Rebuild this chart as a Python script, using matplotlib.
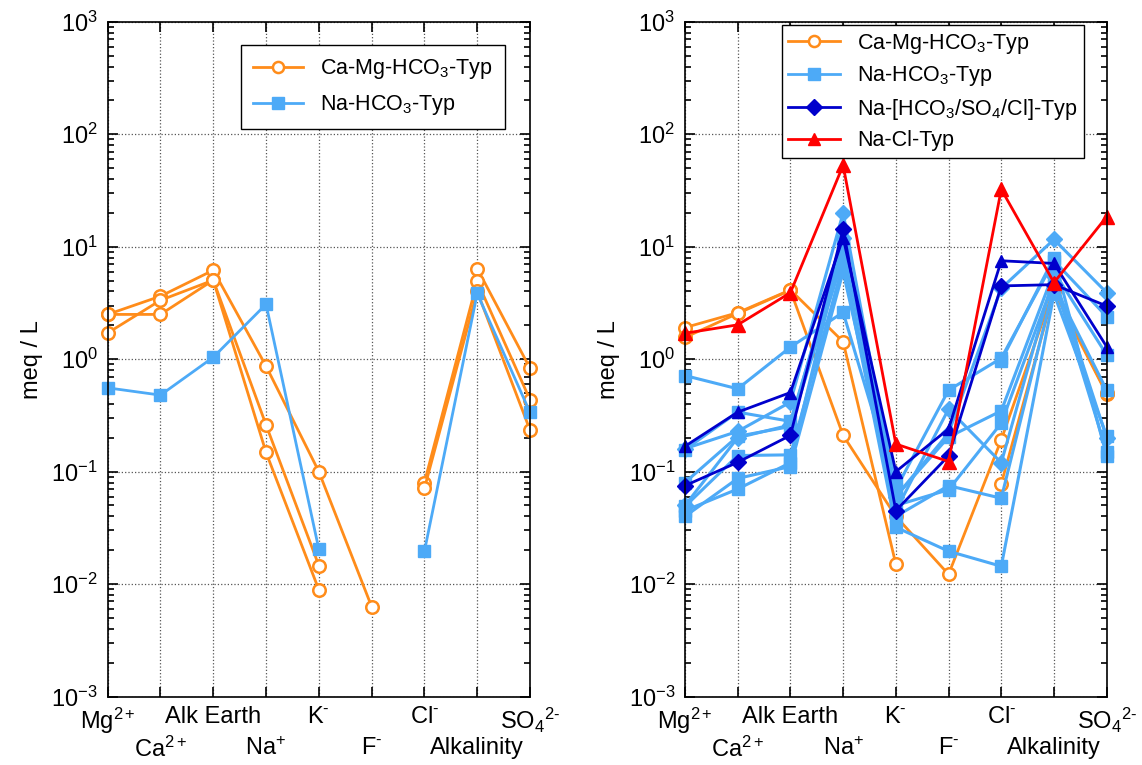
import numpy as np
import matplotlib
matplotlib.use("Agg")
import matplotlib.pyplot as plt
from matplotlib.ticker import LogLocator, NullFormatter
from matplotlib.lines import Line2D

plt.rcParams['font.family'] = ['Liberation Sans', 'DejaVu Sans']
plt.rcParams['mathtext.fontset'] = 'custom'
plt.rcParams['mathtext.rm'] = 'Liberation Sans'
plt.rcParams['mathtext.it'] = 'Liberation Sans'
plt.rcParams['mathtext.bf'] = 'Liberation Sans:bold'

nan = np.nan

# x categories, upper row and lower row of the staggered labels
categories = ['Mg$^{2+}$', 'Ca$^{2+}$', 'Alk Earth', 'Na$^{+}$', r'K$^{\text{-}}$',
              r'F$^{\text{-}}$', r'Cl$^{\text{-}}$', 'Alkalinity', r'SO$_4$$^{2\text{-}}$']

# left panel
left_camg = [
    [2.50, 3.63, 6.18, 0.867, 0.100, 0.0063, nan, 6.40, 0.83],
    [2.50, 2.50, 5.04, 0.260, 0.0146, nan, 0.080, 4.93, 0.435],
    [1.71, 3.34, 5.04, 0.148, 0.0089, nan, 0.071, 4.00, 0.234],
]
left_nahco3 = [
    [0.556, 0.479, 1.04, 3.08, 0.0204, nan, 0.0196, 3.84, 0.336],
]

# right panel
right_camg = [
    [1.91, 2.59, 4.13, 1.43, 0.0150, nan, 0.078, 4.0, 0.49],
    [1.56, 2.55, 4.10, 0.21, 0.040, 0.0122, 0.192, 4.2, 0.50],
]
right_nahco3_sq = [
    [0.715, 0.545, 1.28, 2.61, 0.070, 0.53, 1.02, 7.5, 2.39],
    [0.157, 0.338, 0.280, 10.0, 0.060, 0.203, 0.347, 6.0, 1.09],
    [0.080, 0.206, 0.252, 8.0, 0.040, 0.075, 0.058, 4.5, 0.53],
    [0.049, 0.139, 0.141, 7.0, 0.032, 0.0196, 0.0144, 3.8, 0.208],
    [0.040, 0.087, 0.111, 6.0, 0.050, 0.069, 0.270, 5.0, 0.150],
    [0.045, 0.070, 0.120, 11.0, 0.085, nan, 0.97, 8.0, 0.137],
]
right_nahco3_dia = [
    [0.160, 0.228, 0.415, 20.0, 0.060, 0.22, 4.27, 11.6, 3.9],
    [0.050, 0.200, 0.260, 12.0, 0.045, 0.36, 0.120, 5.5, 0.20],
]
right_mixed = [0.075, 0.121, 0.21, 14.3, 0.045, 0.138, 4.48, 4.6, 2.97]
right_mixed_tri = [0.168, 0.338, 0.505, 12.0, 0.100, 0.24, 7.5, 7.1, 1.29]
right_nacl = [1.70, 2.02, 3.90, 53.0, 0.176, 0.123, 32.4, 4.8, 18.5]

orange = '#FF8C1A'
lblue = '#4DAAF7'
dblue = '#0000CC'
red = '#FF0000'

x = np.arange(1, len(categories) + 1)


def style_ax(ax):
    ax.set_yscale('log')
    ax.set_ylim(1e-3, 1e3)
    ax.set_xlim(1, 9)
    # upper row labels on major ticks, lower row on minor ticks
    ax.set_xticks(x[::2])
    ax.set_xticklabels(categories[::2], fontsize=17)
    ax.set_xticks(x[1::2], minor=True)
    ax.set_xticklabels(categories[1::2], minor=True, fontsize=17)
    ax.yaxis.set_major_locator(LogLocator(base=10, numticks=10))
    ax.yaxis.set_minor_locator(LogLocator(base=10, subs=np.arange(2, 10), numticks=100))
    ax.yaxis.set_minor_formatter(NullFormatter())
    ax.tick_params(axis='both', which='both', direction='in', top=True, right=True, width=1.2)
    ax.tick_params(axis='both', which='major', length=7)
    ax.tick_params(axis='y', which='major', labelsize=17, pad=7)
    ax.tick_params(axis='y', which='minor', length=4)
    ax.tick_params(axis='x', which='major', pad=7)
    ax.tick_params(axis='x', which='minor', length=7, pad=29)
    ax.xaxis.grid(True, which='both', linestyle=':', color='#555555', linewidth=0.9)
    ax.yaxis.grid(True, which='major', linestyle=':', color='#555555', linewidth=0.9)
    for s in ax.spines.values():
        s.set_linewidth(1.2)
    ax.set_ylabel('meq / L', fontsize=17, labelpad=6)


fig = plt.figure(figsize=(11.42, 7.65), dpi=100)
ax1 = fig.add_axes([0.0943, 0.0895, 0.3698, 0.882])
ax2 = fig.add_axes([0.5998, 0.0895, 0.3693, 0.882])

# left
for row in left_camg:
    ax1.plot(x, row, color=orange, lw=2, marker='o', ms=9, mfc='white', mec=orange,
             mew=1.8, clip_on=False)
for row in left_nahco3:
    ax1.plot(x, row, color=lblue, lw=2, marker='s', ms=9, mfc=lblue, mec=lblue, clip_on=False)
style_ax(ax1)

h1 = [Line2D([], [], color=orange, lw=2, marker='o', ms=8, mfc='white', mec=orange, mew=1.8),
      Line2D([], [], color=lblue, lw=2, marker='s', ms=8, mfc=lblue, mec=lblue)]
leg1 = ax1.legend(h1, ['Ca-Mg-HCO$_3$-Typ', 'Na-HCO$_3$-Typ'], loc='upper right',
                  bbox_to_anchor=(0.94, 0.965), borderaxespad=0, fontsize=15.5,
                  fancybox=False, edgecolor='black', framealpha=1, handlelength=2.3,
                  borderpad=0.55, labelspacing=0.55)
leg1.get_frame().set_linewidth(1.0)

# right
for row in right_camg:
    ax2.plot(x, row, color=orange, lw=2, marker='o', ms=9, mfc='white', mec=orange,
             mew=1.8, clip_on=False)
for row in right_nahco3_sq:
    ax2.plot(x, row, color=lblue, lw=2.2, marker='s', ms=9, mfc=lblue, mec=lblue, clip_on=False)
for row in right_nahco3_dia:
    ax2.plot(x, row, color=lblue, lw=2.2, marker='D', ms=8, mfc=lblue, mec=lblue, clip_on=False)
ax2.plot(x, right_mixed_tri, color=dblue, lw=2, marker='^', ms=9, mfc=dblue, mec=dblue, clip_on=False)
ax2.plot(x, right_mixed, color=dblue, lw=2, marker='D', ms=8, mfc=dblue, mec=dblue, clip_on=False)
ax2.plot(x, right_nacl, color=red, lw=2, marker='^', ms=10, mfc=red, mec=red, clip_on=False)
style_ax(ax2)

h2 = [Line2D([], [], color=orange, lw=2, marker='o', ms=8, mfc='white', mec=orange, mew=1.8),
      Line2D([], [], color=lblue, lw=2, marker='s', ms=8, mfc=lblue, mec=lblue),
      Line2D([], [], color=dblue, lw=2, marker='D', ms=8, mfc=dblue, mec=dblue),
      Line2D([], [], color=red, lw=2, marker='^', ms=9, mfc=red, mec=red)]
leg2 = ax2.legend(h2, ['Ca-Mg-HCO$_3$-Typ', 'Na-HCO$_3$-Typ',
                       'Na-[HCO$_3$/SO$_4$/Cl]-Typ', 'Na-Cl-Typ'],
                  loc='upper left', bbox_to_anchor=(0.23, 0.995), borderaxespad=0,
                  fontsize=15.5, fancybox=False, edgecolor='black', framealpha=1,
                  handlelength=2.4, borderpad=0.3, labelspacing=0.4)
leg2.get_frame().set_linewidth(1.0)

fig.savefig('out.png', dpi=100)
